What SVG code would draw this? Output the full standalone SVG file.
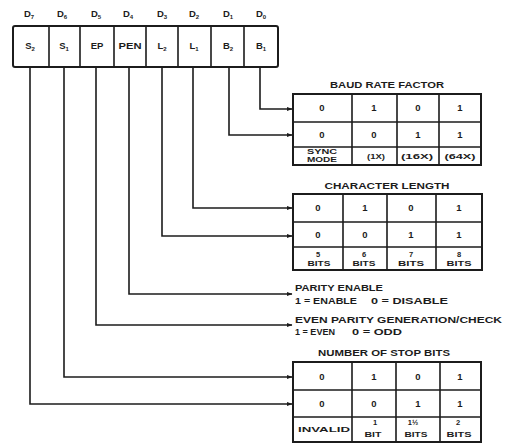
<svg xmlns="http://www.w3.org/2000/svg" width="507" height="444" viewBox="0 0 507 444">
<style>
text{font-family:"Liberation Sans",Arial,sans-serif;font-weight:bold;fill:#1c1c1c;text-anchor:middle}
.c{font-size:9.5px}
.s{font-size:7.5px}
.t{font-size:8.5px}
.l{text-anchor:start;font-size:8.5px}
.sub{font-size:6px}
.box{fill:#fff;stroke:#1c1c1c;stroke-width:2}
.grid{stroke:#1c1c1c;stroke-width:1.6;fill:none}
.conn{fill:none;stroke:#1c1c1c;stroke-width:1.6}
</style>
<defs>
<marker id="ah" viewBox="0 0 6 6" refX="5.5" refY="3" markerWidth="6" markerHeight="6" markerUnits="userSpaceOnUse" orient="auto">
<path d="M0,0.8 L6,3 L0,5.2 Z" fill="#1c1c1c"/>
</marker>
</defs>
<rect width="507" height="444" fill="#fff"/>

<g id="register">
<text class="c" x="29" y="17">D<tspan class="sub" dy="2">7</tspan></text>
<text class="c" x="62" y="17">D<tspan class="sub" dy="2">6</tspan></text>
<text class="c" x="96" y="17">D<tspan class="sub" dy="2">5</tspan></text>
<text class="c" x="128" y="17">D<tspan class="sub" dy="2">4</tspan></text>
<text class="c" x="162" y="17">D<tspan class="sub" dy="2">3</tspan></text>
<text class="c" x="194" y="17">D<tspan class="sub" dy="2">2</tspan></text>
<text class="c" x="228" y="17">D<tspan class="sub" dy="2">1</tspan></text>
<text class="c" x="261" y="17">D<tspan class="sub" dy="2">0</tspan></text>
<rect class="box" x="13" y="26" width="265" height="41" rx="2"/>
<path class="grid" d="M49 26V67M80 26V67M114 26V67M146 26V67M178 26V67M211 26V67M244 26V67"/>
<text class="c" x="30" y="49">S<tspan class="sub" dy="2">2</tspan></text>
<text class="c" x="64" y="49">S<tspan class="sub" dy="2">1</tspan></text>
<text class="c" x="97" y="49">EP</text>
<text class="c" x="130" y="49" textLength="23" lengthAdjust="spacingAndGlyphs">PEN</text>
<text class="c" x="162" y="49">L<tspan class="sub" dy="2">2</tspan></text>
<text class="c" x="194" y="49">L<tspan class="sub" dy="2">1</tspan></text>
<text class="c" x="228" y="49">B<tspan class="sub" dy="2">2</tspan></text>
<text class="c" x="261" y="49">B<tspan class="sub" dy="2">1</tspan></text>
</g>

<g id="connectors">
<path class="conn" marker-end="url(#ah)" d="M260 67V109H292"/>
<path class="conn" marker-end="url(#ah)" d="M229 67V135H292"/>
<path class="conn" marker-end="url(#ah)" d="M193 67V208H292"/>
<path class="conn" marker-end="url(#ah)" d="M162 67V236H292"/>
<path class="conn" marker-end="url(#ah)" d="M129 67V294H292"/>
<path class="conn" marker-end="url(#ah)" d="M96 67V325H292"/>
<path class="conn" marker-end="url(#ah)" d="M64 67V377H292"/>
<path class="conn" marker-end="url(#ah)" d="M30 67V404H292"/>
</g>

<g id="baud-rate-factor">
<text class="t" x="387" y="88" textLength="114" lengthAdjust="spacingAndGlyphs">BAUD RATE FACTOR</text>
<rect class="box" x="293" y="94" width="188" height="71"/>
<path class="grid" d="M293 122H481M293 147H481M352 94V165M397 94V165M439 94V165"/>
<text class="c" x="322" y="111">0</text><text class="c" x="374" y="111">1</text><text class="c" x="418" y="111">0</text><text class="c" x="460" y="111">1</text>
<text class="c" x="322" y="138">0</text><text class="c" x="374" y="138">0</text><text class="c" x="418" y="138">1</text><text class="c" x="460" y="138">1</text>
<text class="s" x="322" y="154" textLength="30" lengthAdjust="spacingAndGlyphs">SYNC</text><text class="s" x="322" y="162" textLength="30" lengthAdjust="spacingAndGlyphs">MODE</text>
<text class="s" x="376" y="159" textLength="18" lengthAdjust="spacingAndGlyphs">(1X)</text><text class="s" x="417" y="159" textLength="32" lengthAdjust="spacingAndGlyphs">(16X)</text><text class="s" x="460" y="159" textLength="31" lengthAdjust="spacingAndGlyphs">(64X)</text>
</g>

<g id="character-length">
<text class="t" x="387" y="189" textLength="125" lengthAdjust="spacingAndGlyphs">CHARACTER LENGTH</text>
<rect class="box" x="293" y="194" width="189" height="76"/>
<path class="grid" d="M293 222H482M293 247H482M343 194V270M387 194V270M436 194V270"/>
<text class="c" x="318" y="211">0</text><text class="c" x="365" y="211">1</text><text class="c" x="411" y="211">0</text><text class="c" x="459" y="211">1</text>
<text class="c" x="318" y="238">0</text><text class="c" x="365" y="238">0</text><text class="c" x="411" y="238">1</text><text class="c" x="459" y="238">1</text>
<text class="s" x="318" y="257">5</text><text class="s" x="319" y="266" textLength="23" lengthAdjust="spacingAndGlyphs">BITS</text>
<text class="s" x="364" y="257">6</text><text class="s" x="364" y="266" textLength="23" lengthAdjust="spacingAndGlyphs">BITS</text>
<text class="s" x="411" y="257">7</text><text class="s" x="411" y="266" textLength="26" lengthAdjust="spacingAndGlyphs">BITS</text>
<text class="s" x="459" y="257">8</text><text class="s" x="459" y="266" textLength="25" lengthAdjust="spacingAndGlyphs">BITS</text>
</g>

<g id="parity-enable">
<text class="l" x="295" y="291" textLength="88" lengthAdjust="spacingAndGlyphs">PARITY ENABLE</text>
<text class="l" x="295" y="304" textLength="62" lengthAdjust="spacingAndGlyphs">1 = ENABLE</text>
<text class="l" x="371" y="304" textLength="77" lengthAdjust="spacingAndGlyphs">0 = DISABLE</text>
</g>

<g id="even-parity">
<text class="l" x="295" y="323" textLength="207" lengthAdjust="spacingAndGlyphs">EVEN PARITY GENERATION/CHECK</text>
<text class="l" x="295" y="335" textLength="40" lengthAdjust="spacingAndGlyphs">1 = EVEN</text>
<text class="l" x="352" y="335" textLength="50" lengthAdjust="spacingAndGlyphs">0 = ODD</text>
</g>

<g id="stop-bits">
<text class="t" x="384" y="356" textLength="132" lengthAdjust="spacingAndGlyphs">NUMBER OF STOP BITS</text>
<rect class="box" x="293" y="362" width="188" height="80"/>
<path class="grid" d="M293 390H481M293 417H481M352 362V442M396 362V442M440 362V442"/>
<text class="c" x="322" y="380">0</text><text class="c" x="374" y="380">1</text><text class="c" x="418" y="380">0</text><text class="c" x="460" y="380">1</text>
<text class="c" x="322" y="407">0</text><text class="c" x="374" y="407">0</text><text class="c" x="418" y="407">1</text><text class="c" x="460" y="407">1</text>
<text class="s" x="324" y="432" textLength="52" lengthAdjust="spacingAndGlyphs">INVALID</text>
<text class="s" x="375" y="425">1</text><text class="s" x="373" y="437" textLength="17" lengthAdjust="spacingAndGlyphs">BIT</text>
<text class="s" x="413" y="425">1½</text><text class="s" x="416" y="437" textLength="23" lengthAdjust="spacingAndGlyphs">BITS</text>
<text class="s" x="458" y="425">2</text><text class="s" x="459" y="437" textLength="25" lengthAdjust="spacingAndGlyphs">BITS</text>
</g>
</svg>
